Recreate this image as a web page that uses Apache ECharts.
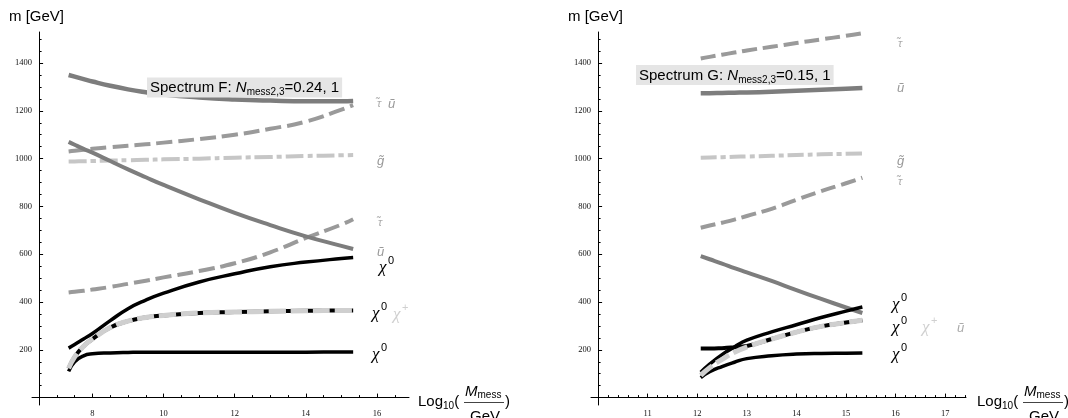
<!DOCTYPE html>
<html><head><meta charset="utf-8">
<script src="https://cdn.jsdelivr.net/npm/echarts@6/dist/echarts.min.js"></script>
<style>html,body{margin:0;padding:0;background:#fff}#c{width:1068px;height:418px}</style>
</head><body><div id="c"></div>
<script>
// ---------- Panel F data (x = log10(Mmess/GeV)) ----------
const xF = [7.33, 7.5, 7.75, 8, 8.5, 9, 9.5, 10, 11, 12, 13, 14, 15, 15.33];
const fSquarkTop = [1350,1343,1333,1323,1305,1290,1278,1268,1256,1248,1243,1240,1240,1241];
const fStauTop   = [1030,1033,1037,1041,1048,1054,1060,1067,1082,1100,1125,1155,1205,1224];
const fGluino    = [988,988.5,989,990,992,993.5,995,997,1000,1004,1007,1011,1014,1015];
const fSquarkLow = [1070,1058,1041,1025,990,955,922,890,830,773,722,675,635,622];
const fStauLow   = [440,443,447,452,463,476,489,503,530,562,608,668,724,746];
const fChi3      = [207,222,245,268,322,372,408,437,484,518,548,567,582,586];
const fChi2      = [122,170,215,245,293,320,335,344,354,358,361,363,365,365];
const fChargino  = [122,170,215,245,293,320,335,344,354,358,361,363,365,365];
const fChi1      = [110,150,175,183,187,189,190,190,190,190,190,190,191,191];

// ---------- Panel G data ----------
const xG = [12.07, 12.25, 12.5, 12.75, 13, 13.5, 14, 14.5, 15, 15.33];
const gStauTop   = [1419,1426,1435,1444,1453,1468,1484,1499,1514,1525];
const gSquarkTop = [1274,1274,1275,1276,1277,1280,1284,1288,1293,1296];
const gGluino    = [1004,1005,1006,1008,1009,1012,1015,1018,1020,1022];
const gStauLow   = [711,720,732,745,760,790,828,864,897,920];
const gSquarkLow = [592,579,561,542,524,488,450,413,377,354];
const gChi3      = [106,140,180,212,240,275,305,335,362,379];
const gChi2      = [205,205,207,211,216,245,274,298,314,324];
const gChargino  = [93,125,160,190,212,245,274,298,314,324];
const gChi1      = [84,108,130,148,163,175,182,185,186,187];

// ---------- ticks ----------
const yMajor = [200, 400, 600, 800, 1000, 1200, 1400];
const yMinor = [50,100,150,250,300,350,450,500,550,650,700,750,850,900,950,1050,1100,1150,1250,1300,1350,1450,1500];
const xMajorF = [8, 10, 12, 14, 16];
const xMinorF = [7, 7.5, 8.5, 9, 9.5, 10.5, 11, 11.5, 12.5, 13, 13.5, 14.5, 15, 15.5, 16.5];
const xMajorG = [11, 12, 13, 14, 15, 16, 17];
const xMinorG = [10.2,10.4,10.6,10.8,11.2,11.4,11.6,11.8,12.2,12.4,12.6,12.8,13.2,13.4,13.6,13.8,
                 14.2,14.4,14.6,14.8,15.2,15.4,15.6,15.8,16.2,16.4,16.6,16.8,17.2,17.4];

const SANS = '"Liberation Sans", Arial, sans-serif';
const SERIF = '"Liberation Serif", "Times New Roman", serif';
const C_SQ = '#7d7d7d', C_ST = '#9a9a9a', C_GL = '#c6c6c6', C_CH = '#cfcfcf';

function pairs(xs, ys) { return xs.map((x, i) => [x, ys[i]]); }
function ln(idx, xs, ys, color, width, type, z) {
  return { type: 'line', xAxisIndex: idx, yAxisIndex: idx, data: pairs(xs, ys),
    showSymbol: false, symbol: 'none', smooth: 0.5, silent: true,
    lineStyle: { color: color, width: width, type: type || 'solid', cap: 'butt', join: 'round' }, z: z || 2 };
}

function xAx(grid, min, max, vals, major) {
  return { type: 'value', gridIndex: grid, min: min, max: max, position: 'bottom',
    axisLine: { show: major, onZero: true, lineStyle: { color: '#000', width: 1 } },
    splitLine: { show: false },
    axisTick: { show: true, inside: true, length: major ? 4 : 2.5, customValues: vals, lineStyle: { color: '#000' } },
    axisLabel: { show: major, customValues: vals, margin: 4, fontFamily: SERIF, fontSize: 8.5, color: '#111',
                 formatter: v => String(v) } };
}
function yAx(grid, vals, major) {
  return { type: 'value', gridIndex: grid, min: -31, max: 1530, offset: -7.1, position: 'left',
    axisLine: { show: major, onZero: false, lineStyle: { color: '#000', width: 1 } },
    splitLine: { show: false },
    axisTick: { show: true, inside: true, length: major ? 4 : 2.5, customValues: vals, lineStyle: { color: '#000' } },
    axisLabel: { show: major, customValues: vals, margin: 7, fontFamily: SERIF, fontSize: 8.5, color: '#111',
                 formatter: v => String(v) } };
}

function txt(x, y, text, font, fill) {
  return { type: 'text', x: x, y: y, z: 100, silent: true, style: { text: text, font: font, fill: fill, align: 'left', verticalAlign: 'middle' } };
}
function chi(x, y, sup, color) {
  return [ txt(x, y, 'χ', 'italic 17px ' + SERIF, color),
           txt(x + 9, y - 7, sup, '11px ' + SANS, color) ];
}
function box(x, y, letter, val) {
  return { type: 'text', x: x, y: y, z: 100, silent: true, style: {
    text: '{a|Spectrum ' + letter + ': }{n|N}{s|mess2,3}{a|=' + val + ', 1}',
    verticalAlign: 'middle', backgroundColor: '#e5e5e5', padding: [1, 3, 0, 3],
    rich: {
      a: { fontFamily: SANS, fontSize: 15, fill: '#000', lineHeight: 19, verticalAlign: 'middle' },
      n: { fontFamily: SANS, fontStyle: 'italic', fontSize: 15, fill: '#000', lineHeight: 19, verticalAlign: 'middle' },
      s: { fontFamily: SANS, fontSize: 10, fill: '#000', lineHeight: 10, verticalAlign: 'bottom' }
    } } };
}
function xTitle(x0) {
  return [
    { type: 'text', x: x0, y: 402, z: 100, silent: true, style: { text: '{a|Log}{s|10}{a|(}', verticalAlign: 'middle',
      rich: { a: { fontFamily: SANS, fontSize: 15, fill: '#000', lineHeight: 18, verticalAlign: 'middle' },
              s: { fontFamily: SANS, fontSize: 10, fill: '#000', lineHeight: 10, verticalAlign: 'bottom' } } } },
    { type: 'text', x: x0 + 47, y: 392, z: 100, silent: true, style: { text: '{n|M}{s|mess}', verticalAlign: 'middle',
      rich: { n: { fontFamily: SANS, fontStyle: 'italic', fontSize: 15, fill: '#000', lineHeight: 17, verticalAlign: 'middle' },
              s: { fontFamily: SANS, fontSize: 10, fill: '#000', lineHeight: 10, verticalAlign: 'bottom' } } } },
    { type: 'line', z: 100, silent: true, shape: { x1: x0 + 46, y1: 402.5, x2: x0 + 86, y2: 402.5 }, style: { stroke: '#444', lineWidth: 1 } },
    txt(x0 + 52, 417, 'GeV', '15px ' + SANS, '#000'),
    txt(x0 + 87, 402, ')', '15px ' + SANS, '#000')
  ];
}

const graphics = [].concat(
  [ txt(9, 17, 'm [GeV]', '15px ' + SANS, '#000'), txt(568, 17, 'm [GeV]', '15px ' + SANS, '#000'),
    box(147, 87.5, 'F', '0.24'), box(636, 75, 'G', '0.15') ],
  xTitle(418), xTitle(977),
  // panel F labels
  [ txt(377, 104, 'τ̃', 'italic 11px ' + SANS, '#aaa'), txt(388, 104, 'ũ', 'italic 13px ' + SANS, '#999'),
    txt(377, 161, 'g̃', 'italic 13px ' + SANS, '#999'),
    txt(378, 223, 'τ̃', 'italic 11px ' + SANS, '#aaa'),
    txt(377, 252, 'ũ', 'italic 13px ' + SANS, '#999') ],
  chi(379, 268, '0', '#000'), chi(372, 314, '0', '#000'), chi(393, 315, '+', '#d0d0d0'), chi(372, 355, '0', '#000'),
  // panel G labels
  [ txt(898, 44, 'τ̃', 'italic 11px ' + SANS, '#aaa'),
    txt(897, 88, 'ũ', 'italic 13px ' + SANS, '#999'),
    txt(897, 161, 'g̃', 'italic 13px ' + SANS, '#999'),
    txt(898, 182, 'τ̃', 'italic 11px ' + SANS, '#aaa'),
    txt(957, 328, 'ũ', 'italic 13px ' + SANS, '#aaa') ],
  chi(892, 305, '0', '#000'), chi(892, 328, '0', '#000'), chi(922, 328, '+', '#d0d0d0'), chi(892, 355, '0', '#000')
);

const option = {
  animation: false,
  backgroundColor: '#fff',
  grid: [
    { left: 32, top: 32, width: 377, height: 378, containLabel: false },
    { left: 591, top: 32, width: 375, height: 378, containLabel: false }
  ],
  xAxis: [ xAx(0, 6.3, 16.9, xMajorF, true), xAx(0, 6.3, 16.9, xMinorF, false),
           xAx(1, 9.857, 17.42, xMajorG, true), xAx(1, 9.857, 17.42, xMinorG, false) ],
  yAxis: [ yAx(0, yMajor, true), yAx(0, yMinor, false), yAx(1, yMajor, true), yAx(1, yMinor, false) ],
  series: [
    ln(0, xF, fGluino, C_GL, 4, [18, 4, 5, 4]),
    ln(0, xF, fStauTop, C_ST, 4, [16, 6]),
    ln(0, xF, fStauLow, C_ST, 4, [16, 6]),
    ln(0, xF, fSquarkTop, C_SQ, 4.5),
    ln(0, xF, fSquarkLow, C_SQ, 4),
    ln(0, xF, fChi3, '#000', 3.5, 'solid', 3),
    ln(0, xF, fChi1, '#000', 3.5, 'solid', 3),
    ln(0, xF, fChi2, '#000', 4, 'solid', 3),
    ln(0, xF, fChargino, C_CH, 5, [17, 5], 4),

    ln(2, xG, gGluino, C_GL, 4, [16, 4, 5, 4]),
    ln(2, xG, gStauTop, C_ST, 4, [15, 6]),
    ln(2, xG, gStauLow, C_ST, 4, [15, 6]),
    ln(2, xG, gSquarkTop, C_SQ, 4.5),
    ln(2, xG, gSquarkLow, C_SQ, 4),
    ln(2, xG, gChi3, '#000', 3.5, 'solid', 3),
    ln(2, xG, gChi1, '#000', 3.5, 'solid', 3),
    ln(2, xG, gChi2, '#000', 4, 'solid', 3),
    ln(2, xG, gChargino, C_CH, 5, [15, 5], 4)
  ],
  graphic: graphics
};
const chart = echarts.init(document.getElementById('c'), null, { renderer: 'canvas' });
chart.setOption(option);
</script></body></html>
